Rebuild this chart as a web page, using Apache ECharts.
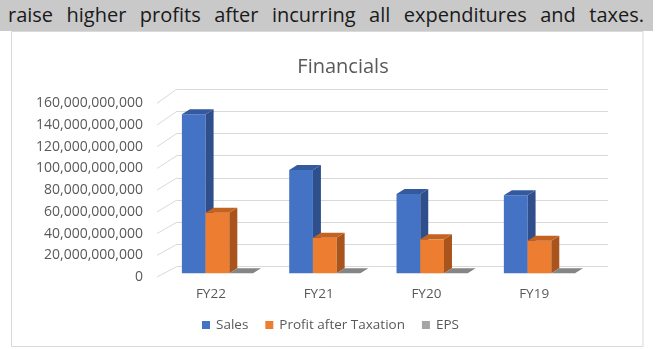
<!DOCTYPE html>
<html>
<head>
<meta charset="utf-8">
<script src="https://cdn.jsdelivr.net/npm/echarts@6/dist/echarts.min.js"></script>
<style>
  html,body{margin:0;padding:0;background:#fff;}
  #band{position:absolute;left:0;top:0;width:653px;height:31px;background:#c9c9c9;}
  #txt{position:absolute;left:8px;top:0;width:636px;height:31px;line-height:30px;font-family:'Open Sans',sans-serif;font-size:20px;color:#1a1a1a;text-align:justify;text-align-last:justify;overflow:hidden;}
  #chart{position:absolute;left:0;top:0;width:667px;height:349px;}
</style>
</head>
<body>
<div id="band"></div>
<div id="txt">raise higher profits after incurring all expenditures and taxes.</div>
<div id="chart"></div>
<script>
const titleText = 'Financials';
const categories = ['FY22', 'FY21', 'FY20', 'FY19'];
const seriesNames = ['Sales', 'Profit after Taxation', 'EPS'];
const sales = [145.2e9, 94.3e9, 72.4e9, 71.2e9];
const profit = [55.3e9, 32.5e9, 31.0e9, 29.8e9];
const eps = [30, 20, 18, 16];
const yTicks = [0, 20e9, 40e9, 60e9, 80e9, 100e9, 120e9, 140e9, 160e9];

const palette = [
  {front:'#4472c4', side:'#2f4f8c', top:'#34599c'},
  {front:'#ed7d31', side:'#a9541c', top:'#c4631f'},
  {front:'#a5a5a5', side:'#7a7a7a', top:'#858585'}
];
const DX = 8, DY = -5;
const fontFam = "'Open Sans', sans-serif";
const yMax = yTicks[yTicks.length - 1];
const yInt = yTicks[1] - yTicks[0];

function bar3d(idx, values) {
  const c = palette[idx];
  return {
    type: 'custom', name: seriesNames[idx], xAxisIndex: 2, yAxisIndex: 2,
    itemStyle: {color: c.front},
    data: values.map((v, i) => [i, v]),
    renderItem: function (params, api) {
      const i = api.value(0), v = api.value(1);
      const base = api.coord([i, 0]);
      const topP = api.coord([i, v]);
      const band = api.size([1, 0])[0];
      const bw = band * 0.221;
      const x0 = base[0] + (idx - 1.5) * bw;
      const yb = base[1], yt = topP[1];
      const x1 = x0 + bw;
      return {
        type: 'group',
        children: [
          {type: 'rect', shape: {x: x0, y: yt, width: bw, height: Math.max(0, yb - yt)}, style: {fill: c.front}},
          {type: 'polygon', shape: {points: [[x1, yt], [x1 + DX, yt + DY], [x1 + DX, yb + DY], [x1, yb]]}, style: {fill: c.side}},
          {type: 'polygon', shape: {points: [[x0, yt], [x0 + DX, yt + DY], [x1 + DX, yt + DY], [x1, yt]]}, style: {fill: c.top}}
        ]
      };
    }
  };
}

const chart = echarts.init(document.getElementById('chart'), null, {renderer: 'canvas'});
chart.setOption({
  animation: false,
  title: {
    text: titleText, left: 343, top: 57, textAlign: 'center', padding: 0,
    textStyle: {fontFamily: fontFam, fontSize: 20, fontWeight: 'normal', color: '#595959'}
  },
  legend: {
    left: 202, top: 318, padding: 0, itemWidth: 8, itemHeight: 8, itemGap: 17, icon: 'rect',
    textStyle: {fontFamily: fontFam, fontSize: 13.5, color: '#595959', padding: [0, 0, 0, 1]},
    data: seriesNames
  },
  graphic: [{
    type: 'rect', shape: {x: 11.5, y: 31.5, width: 631.5, height: 315}, style: {fill: null, stroke: '#d9d9d9', lineWidth: 1}, z: -1
  }],
  grid: [
    {left: 177, top: 89, width: 431, height: 177.5},
    {left: 157, top: 103.3, width: 431, height: 173.7},
    {left: 163.8, top: 98.1, width: 429.3, height: 175.2}
  ],
  xAxis: [
    {gridIndex: 0, type: 'category', data: categories, show: false},
    {gridIndex: 1, type: 'category', data: categories, axisLine: {show: false}, axisTick: {show: false},
     axisLabel: {margin: 10, fontFamily: fontFam, fontSize: 13.5, color: '#595959'}},
    {gridIndex: 2, type: 'category', data: categories, show: false}
  ],
  yAxis: [
    {gridIndex: 0, type: 'value', min: 0, max: yMax, interval: yInt, axisLabel: {show: false},
     axisLine: {show: false}, axisTick: {show: false}, splitLine: {lineStyle: {color: '#d9d9d9', width: 1}}},
    {gridIndex: 1, type: 'value', min: 0, max: yMax, interval: yInt, splitLine: {show: false},
     axisLine: {show: false}, axisTick: {show: false},
     axisLabel: {margin: 14, fontFamily: fontFam, fontSize: 14, color: '#595959',
       formatter: v => Number(v).toLocaleString('en-US')}},
    {gridIndex: 2, type: 'value', min: 0, max: yMax, interval: yInt, show: false}
  ],
  series: [
    {
      type: 'custom', name: 'wall', xAxisIndex: 0, yAxisIndex: 0, silent: true, legendHoverLink: false,
      data: yTicks.map(v => [0, v]),
      renderItem: function (params, api) {
        const v = api.value(1);
        const p = api.coord([0, v]);
        const bx = params.coordSys.x;
        const dyF = 10.5 + 3.8 * (v / yMax);
        return {type: 'line', shape: {x1: bx - 20, y1: p[1] + dyF, x2: bx, y2: p[1]},
                style: {stroke: '#d9d9d9', lineWidth: 1}};
      }
    },
    bar3d(0, sales),
    bar3d(1, profit),
    bar3d(2, eps)
  ]
});
</script>
</body>
</html>
